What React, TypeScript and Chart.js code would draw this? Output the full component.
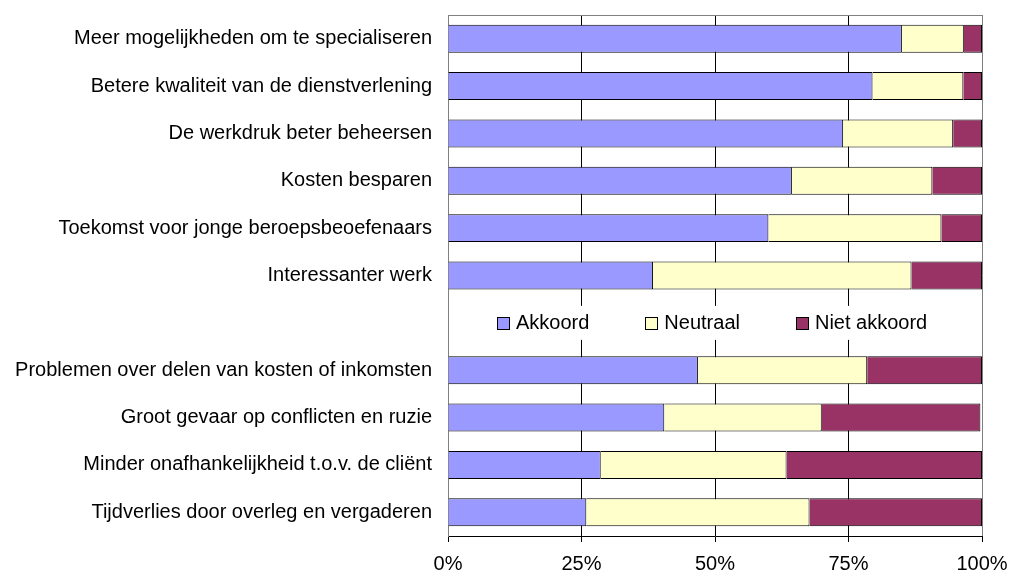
import React, { useEffect, useRef } from "react";
import { Chart, registerables } from "chart.js";

Chart.register(...registerables);

const categories = [
  "Meer mogelijkheden om te specialiseren",
  "Betere kwaliteit van de dienstverlening",
  "De werkdruk beter beheersen",
  "Kosten besparen",
  "Toekomst voor jonge beroepsbeoefenaars",
  "Interessanter werk",
  "",
  "Problemen over delen van kosten of inkomsten",
  "Groot gevaar op conflicten en ruzie",
  "Minder onafhankelijkheid t.o.v. de cliënt",
  "Tijdverlies door overleg en vergaderen",
];

const akkoord = [85, 79.5, 74, 64.4, 60, 38.4, null, 46.8, 40.5, 28.6, 25.9];
const neutraal = [11.6, 17, 20.6, 26.3, 32.4, 48.4, null, 31.7, 29.5, 34.8, 41.8];
const nietAkkoord = [3.4, 3.5, 5.4, 9.3, 7.6, 13.2, null, 21.5, 29.7, 36.6, 32.3];

const seriesNames = ["Akkoord", "Neutraal", "Niet akkoord"];
const seriesColors = ["#9999FF", "#FFFFCC", "#993366"];
const xTickValues = [0, 25, 50, 75, 100];

const FONT = "'Liberation Sans', Arial, sans-serif";

const legendPlugin = {
  id: "inlineLegend",
  afterDraw(chart: any) {
    const ctx = chart.ctx;
    const area = chart.chartArea;
    const yScale = chart.scales.y;
    const yc = yScale.getPixelForValue(6);
    ctx.save();
    ctx.font = `20px ${FONT}`;
    const box = 12;
    const gapBox = 7;
    const gapItem = 56;
    const widths = seriesNames.map((n) => ctx.measureText(n).width);
    const total =
      widths.reduce((a, b) => a + b, 0) + seriesNames.length * (box + gapBox) + gapItem * (seriesNames.length - 1);
    let x = area.left + 49;
    ctx.fillStyle = "#ffffff";
    ctx.fillRect(x - 10, yc - 17, total + 20, 34);
    ctx.textBaseline = "middle";
    ctx.textAlign = "left";
    seriesNames.forEach((name, i) => {
      const bx = Math.round(x) + 0.5;
      const by = Math.round(yc - box / 2) + 0.5;
      ctx.fillStyle = seriesColors[i];
      ctx.fillRect(bx, by, box, box);
      ctx.strokeStyle = "#000000";
      ctx.lineWidth = 1;
      ctx.strokeRect(bx, by, box, box);
      ctx.fillStyle = "#000000";
      ctx.fillText(name, x + box + gapBox, yc + 1);
      x += box + gapBox + widths[i] + gapItem;
    });
    // top border of plot area
    ctx.strokeStyle = "#808080";
    ctx.lineWidth = 1;
    ctx.beginPath();
    ctx.moveTo(area.left, Math.round(area.top) + 0.5);
    ctx.lineTo(area.right, Math.round(area.top) + 0.5);
    ctx.stroke();
    ctx.restore();
  },
};

export default function App() {
  const canvasRef = useRef<HTMLCanvasElement | null>(null);

  useEffect(() => {
    document.body.style.margin = "0";
    const canvas = canvasRef.current;
    if (!canvas) return;
    const data = [akkoord, neutraal, nietAkkoord];
    const chart = new Chart(canvas, {
      type: "bar",
      data: {
        labels: categories,
        datasets: seriesNames.map((name, i) => ({
          label: name,
          data: data[i],
          backgroundColor: seriesColors[i],
          borderColor: "#000000",
          borderWidth: 1,
          categoryPercentage: 1,
          barPercentage: 0.59,
        })),
      },
      options: {
        indexAxis: "y",
        responsive: false,
        animation: false,
        devicePixelRatio: 1,
        layout: { padding: { top: 15, right: 28, left: 0, bottom: 0 } },
        plugins: {
          legend: { display: false },
          tooltip: { enabled: false },
          title: { display: false },
        },
        scales: {
          x: {
            stacked: true,
            min: 0,
            max: 100,
            afterBuildTicks(scale: any) {
              scale.ticks = xTickValues.map((v) => ({ value: v }));
            },
            afterFit(scale: any) {
              scale.height = 40;
              scale.paddingLeft = 0;
              scale.paddingRight = 0;
            },
            ticks: {
              callback: (v: any) => `${v}%`,
              color: "#000000",
              font: { family: FONT, size: 20 },
              padding: 10,
              maxRotation: 0,
            },
            grid: {
              color: (c: any) =>
                c.tick && (c.tick.value === 0 || c.tick.value === 100) ? "#808080" : "#000000",
              tickColor: "#000000",
              tickLength: 6,
              lineWidth: 1,
            },
            border: { display: true, color: "#000000", width: 1 },
          },
          y: {
            stacked: true,
            afterFit(scale: any) {
              scale.width = 448;
              scale.paddingTop = 0;
              scale.paddingBottom = 0;
            },
            ticks: {
              color: "#000000",
              font: { family: FONT, size: 20 },
              padding: 16,
              autoSkip: false,
            },
            grid: { display: false, drawTicks: false },
            border: { display: true, color: "#808080", width: 1 },
          },
        },
      },
      plugins: [legendPlugin],
    });
    return () => chart.destroy();
  }, []);

  return (
    <div style={{ width: 1010, height: 576, background: "#ffffff" }}>
      <canvas ref={canvasRef} width={1010} height={576} style={{ display: "block" }} />
    </div>
  );
}
